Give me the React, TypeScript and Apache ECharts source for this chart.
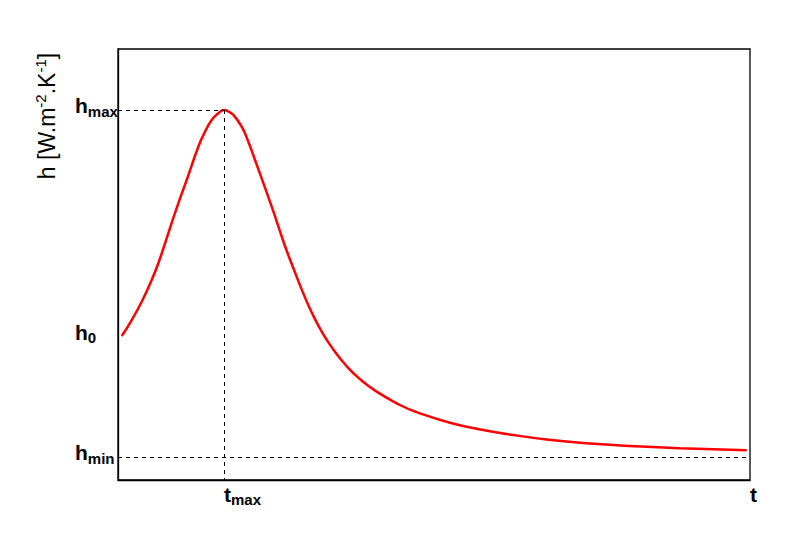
import React, { useEffect, useRef } from "react";
import * as echarts from "echarts";

const tValues = [0.59, 2.17, 3.75, 5.33, 6.38, 7.96, 9.54, 10.87, 12.71, 13.77, 14.83, 15.87, 16.77, 17.45, 18.25, 19.57, 20.62, 21.68, 24.32, 26.42, 27.74, 29.32, 30.9, 32.48, 34.07, 36.19, 38.29, 40.93, 44.62, 47.26, 52.53, 57.8, 62.55, 67.83, 73.1, 78.37, 83.65, 88.92, 94.19, 99.48];
const hValues = [33.41, 37.12, 41.37, 46.4, 50.28, 57.24, 64.2, 69.61, 77.33, 80.8, 83.53, 85.08, 85.85, 85.5, 84.7, 81.97, 78.5, 74.25, 63.41, 54.3, 49.2, 43.3, 38.1, 33.8, 30.3, 26.4, 23.4, 20.5, 17.4, 15.75, 13.3, 11.6, 10.44, 9.4, 8.65, 8.12, 7.73, 7.38, 7.12, 6.89];

const hMax = 85.85;
const h0 = 33.4;
const hMin = 5.34;
const tMax = 16.77;
const tEnd = 100;

const FONT = "Liberation Sans";

export default function App() {
  const ref = useRef<HTMLDivElement>(null);
  useEffect(() => {
    if (!ref.current) return;
    const chart = echarts.init(ref.current, undefined, { renderer: "svg" });
    const rich = {
      h: { fontSize: 21, fontWeight: "bold", fontFamily: FONT, color: "#000", lineHeight: 26, verticalAlign: "middle" },
      s: { fontSize: 15, fontWeight: "bold", fontFamily: FONT, color: "#000", verticalAlign: "bottom", lineHeight: 14 },
    };
    chart.setOption({
      animation: false,
      grid: { left: 118, right: 39, top: 49, bottom: 54, show: true, borderColor: "#000", borderWidth: 1.3, backgroundColor: "transparent" },
      xAxis: {
        type: "value",
        min: 0,
        max: 100,
        splitLine: { show: false },
        axisTick: { show: false },
        axisLine: { show: true, lineStyle: { color: "#000", width: 1.3 } },
        axisLabel: {
          customValues: [tMax, tEnd],
          align: "left",
          margin: 1,
          formatter: (v: number) => (v === tMax ? "{h|t}{s|max}" : "{h|t}"),
          rich,
        },
      },
      yAxis: {
        type: "value",
        min: 0,
        max: 100,
        splitLine: { show: false },
        axisTick: { show: false },
        axisLine: { show: true, lineStyle: { color: "#000", width: 1.3 } },
        axisLabel: {
          customValues: [hMin, h0, hMax],
          align: "left",
          margin: 43,
          padding: [0, 0, 8, 0],
          formatter: (v: number) => (v === hMax ? "{h|h}{s|max}" : v === h0 ? "{h|h}{s|0}" : "{h|h}{s|min}"),
          rich,
        },
      },
      graphic: [
        {
          type: "text",
          x: 47,
          y: 116,
          rotation: Math.PI / 2,
          style: {
            text: "{n|h [W.m}{p|-2}{n|.K}{p|-1}{n|]}",
            align: "center",
            verticalAlign: "middle",
            rich: {
              n: { fontSize: 23, fontFamily: FONT, color: "#000", lineHeight: 28, verticalAlign: "middle" },
              p: { fontSize: 15, fontFamily: FONT, color: "#000", lineHeight: 28, verticalAlign: "top" },
            },
          },
        },
      ],
      series: [
        {
          type: "line",
          data: tValues.map((t, i) => [t, hValues[i]]),
          smooth: 0.5,
          showSymbol: false,
          lineStyle: { color: "#ff0000", width: 2.5 },
          markLine: {
            silent: true,
            symbol: "none",
            label: { show: false },
            lineStyle: { color: "#000", width: 1, type: [4, 4] },
            data: [
              [{ coord: [0, hMax] }, { coord: [tMax, hMax] }],
              [{ coord: [tMax, hMax] }, { coord: [tMax, 0] }],
              [{ coord: [0, hMin] }, { coord: [tEnd, hMin] }],
            ],
          },
        },
      ],
    });
    return () => chart.dispose();
  }, []);
  return <div ref={ref} style={{ width: 789, height: 534, position: "absolute", left: 0, top: 0 }} />;
}
